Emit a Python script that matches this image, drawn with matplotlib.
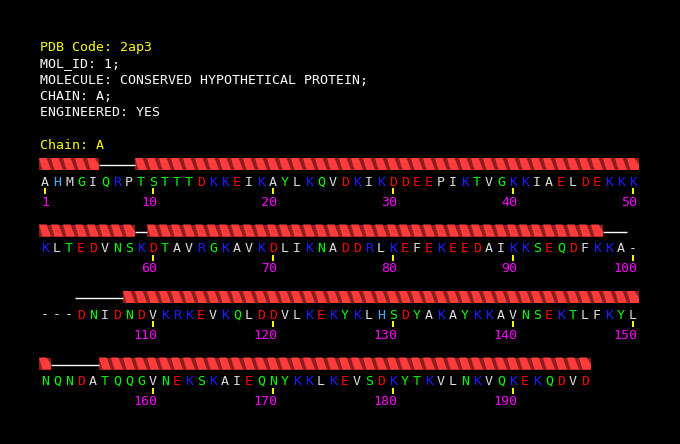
import matplotlib
matplotlib.use('Agg')
import matplotlib.pyplot as plt
from matplotlib.patches import Polygon

# Header lines of the PDB entry
pdb_code = 'PDB Code: 2ap3'
header_lines = ['MOL_ID: 1;',
                'MOLECULE: CONSERVED HYPOTHETICAL PROTEIN;',
                'CHAIN: A;',
                'ENGINEERED: YES']
chain_label = 'Chain: A'

# Sequence of chain A (positions 100-103 are gaps)
sequence = ('AHMGIQRPTSTTTDKKEIKAYLKQVDKIKDDEEPIKTVGKKIAELDEKKK'
            'KLTEDVNSKDTAVRGKAVKDLIKNADDRLKEFEKEEDAIKKSEQDFKKA-'
            '---DNIDNDVKRKEVKQLDDVLKEKYKLHSDYAKAYKKAVNSEKTLFKYL'
            'NQNDATQQGVNEKSKAIEQNYKKLKEVSDKYTKVLNKVQKEKQDVD')

# Secondary structure (residue numbers, inclusive)
helices = [(1, 5), (9, 58), (60, 97), (108, 151), (156, 196)]
coils = [(6, 8), (59, 59), (98, 99), (104, 107), (152, 155)]
tick_residues = [1] + list(range(10, 200, 10))

# Residue colour classes
res_colors = {}
for aa in 'AILMPVFW-':
    res_colors[aa] = '#dcdcdc'
for aa in 'GTSYQNC':
    res_colors[aa] = '#00ff00'
for aa in 'DE':
    res_colors[aa] = '#ff0000'
for aa in 'KR':
    res_colors[aa] = '#1e1eff'
res_colors['H'] = '#3cb4ff'

# Layout
per_row = 50
x0 = 45
step = 12.0
row_y0 = 182
row_dy = 66.5
font = 'DejaVu Sans Mono'
fs = 9.5


def pos(i):
    row = (i - 1) // per_row
    col = (i - 1) % per_row
    return x0 + col * step, row_y0 + row * row_dy


def split_rows(a, b):
    # break a residue range into pieces that stay on one row
    pieces = []
    while a <= b:
        row_end = ((a - 1) // per_row + 1) * per_row
        pieces.append((a, min(b, row_end)))
        a = row_end + 1
    return pieces


fig = plt.figure(figsize=(6.8, 4.44), dpi=100, facecolor='black')
ax = fig.add_axes([0, 0, 1, 1])
ax.set_facecolor('black')
ax.set_xlim(0, 680)
ax.set_ylim(444, 0)
ax.axis('off')

# Header text
ax.text(40, 48, pdb_code, color='#ffff00', fontsize=fs, family=font, va='center')
for k, line in enumerate(header_lines):
    ax.text(40, 64 + k * 16.2, line, color='white', fontsize=fs, family=font, va='center')
ax.text(40, 145, chain_label, color='#ffff00', fontsize=fs, family=font, va='center')

# Residue letters
for i, aa in enumerate(sequence, start=1):
    x, y = pos(i)
    ax.text(x, y, aa, color=res_colors[aa], fontsize=fs, family=font,
            ha='center', va='center')

# Helices: dark band with a wide bright slanted stripe per residue
for a0, b0 in helices:
    for a, b in split_rows(a0, b0):
        xa, y = pos(a)
        xb, _ = pos(b)
        top = y - 24
        bot = y - 12
        left = xa - step / 2
        right = xb + step / 2
        ax.add_patch(Polygon([(left, top), (right, top), (right, bot), (left, bot)],
                             closed=True, facecolor='#8c1e1e', edgecolor='none'))
        for i in range(a, b + 1):
            x, _ = pos(i)
            xl = x - step / 2
            if i < b:
                pts = [(xl, top), (xl + 7.5, top), (xl + 12, bot), (xl + 3.5, bot)]
            else:
                pts = [(xl, top), (xl + 7.5, top), (right, top + 7), (right, bot), (xl + 3.5, bot)]
            ax.add_patch(Polygon(pts, closed=True, facecolor='#ff3c3c', edgecolor='none'))

# Coils
for a0, b0 in coils:
    for a, b in split_rows(a0, b0):
        xa, y = pos(a)
        xb, _ = pos(b)
        ax.plot([xa - step / 2, xb + step / 2], [y - 17, y - 17], color='white', lw=1.0,
                solid_capstyle='butt')

# Ticks and numbers
for i in tick_residues:
    x, y = pos(i)
    ax.plot([x, x], [y + 6, y + 12], color='#ffff00', lw=1.4, solid_capstyle='butt')
    ax.text(x + 4.5, y + 20, str(i), color='#ff00ff', fontsize=fs, family=font,
            ha='right', va='center')

fig.savefig('out.png', dpi=100, facecolor='black')
